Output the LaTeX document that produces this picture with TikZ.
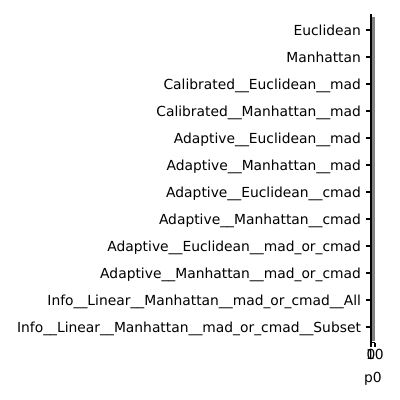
\documentclass[tikz,border=0pt]{standalone}
\usepackage{fontspec}
\setmainfont{DejaVu Sans}
\begin{document}
\begin{tikzpicture}[x=0.01in,y=-0.01in,
  lbl/.style={anchor=base east,inner sep=0pt,font=\fontsize{10}{12}\selectfont},
  xlbl/.style={anchor=base,inner sep=0pt,font=\fontsize{10}{12}\selectfont},
  axline/.style={line width=0.8pt,black},
  barfill/.style={fill=black!50}]
\useasboundingbox[fill=white] (0,0) rectangle (400,400);
\fill[barfill] (371,16.5) rectangle (375,340.5);
\draw[axline] (371,14) -- (371,342.5) -- (375.2,342.5);
\foreach \i/\t in {0/Euclidean,1/Manhattan,2/Calibrated\_\_Euclidean\_\_mad,3/Calibrated\_\_Manhattan\_\_mad,4/Adaptive\_\_Euclidean\_\_mad,5/Adaptive\_\_Manhattan\_\_mad,6/Adaptive\_\_Euclidean\_\_cmad,7/Adaptive\_\_Manhattan\_\_cmad,8/Adaptive\_\_Euclidean\_\_mad\_or\_cmad,9/Adaptive\_\_Manhattan\_\_mad\_or\_cmad,10/Info\_\_Linear\_\_Manhattan\_\_mad\_or\_cmad\_\_All,11/Info\_\_Linear\_\_Manhattan\_\_mad\_or\_cmad\_\_Subset}{
  \coordinate (t\i) at (366.1,30+27*\i);
  \coordinate (s\i) at (371,30+27*\i);
  \draw[axline] (t\i) -- (s\i);
  \node[lbl] (l\i) at (361.2,35+27*\i) {\t};
}
\coordinate (xa) at (371,342.5);
\coordinate (xb) at (371,347.4);
\coordinate (xc) at (375,342.5);
\coordinate (xd) at (375,347.4);
\draw[axline] (xa) -- (xb);
\draw[axline] (xc) -- (xd);
\node[xlbl] (x0) at (371,359.5) {0};
\node[xlbl] (x10) at (375,359.5) {10};
\node[xlbl] (xl) at (373,382) {p0};
\end{tikzpicture}
\end{document}
